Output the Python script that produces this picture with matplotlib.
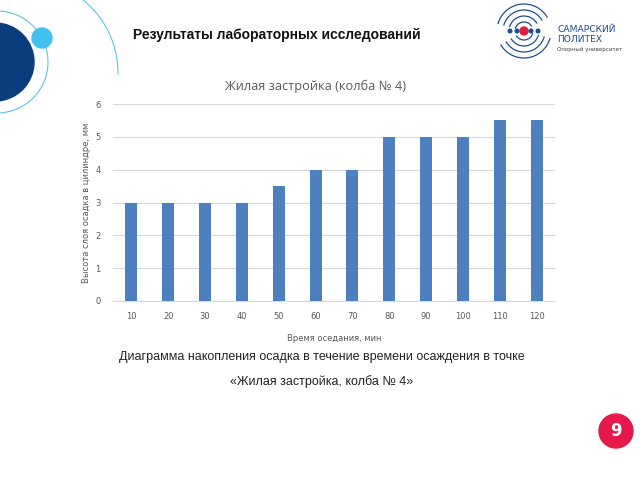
import matplotlib
matplotlib.use("Agg")
import matplotlib.pyplot as plt
from matplotlib.patches import Circle, Arc

times = ["10", "20", "30", "40", "50", "60", "70", "80", "90", "100", "110", "120"]
heights = [3, 3, 3, 3, 3.5, 4, 4, 5, 5, 5, 5.5, 5.5]
yticks = [0, 1, 2, 3, 4, 5, 6]

W, H = 640, 480
fig = plt.figure(figsize=(6.4, 4.8), dpi=100)
fig.patch.set_facecolor("white")

# background decoration layer in pixel coords (y inverted)
bg = fig.add_axes([0, 0, 1, 1])
bg.set_xlim(0, W)
bg.set_ylim(H, 0)
bg.axis("off")
bg.add_patch(Circle((-5, 62), 39, color="#0b3d7e", zorder=2))
bg.add_patch(Circle((-3, 62), 51, fill=False, ec="#5bc3e8", lw=0.8, zorder=1))
bg.add_patch(Circle((42, 38), 10, color="#43bff0", zorder=3))
bg.add_patch(Arc((24, 73), 188, 188, theta1=-75, theta2=1, ec="#5bc3e8", lw=0.8))

# logo
cx, cy = 524, 31
for r in (9, 15, 21, 27):
    bg.add_patch(Arc((cx, cy), 2 * r, 2 * r, theta1=195, theta2=330, ec="#1f4e8c", lw=0.9))
    bg.add_patch(Arc((cx, cy), 2 * r, 2 * r, theta1=15, theta2=150, ec="#1f4e8c", lw=0.9))
bg.add_patch(Circle((cx, cy), 4, color="#e31e3c", zorder=5))
for dx in (-14, -7, 7, 14):
    bg.add_patch(Circle((cx + dx, cy), 1.8, color="#1f4e8c", zorder=5))
bg.text(557, 30, "САМАРСКИЙ", fontsize=6.6, color="#1f4e8c", family="DejaVu Sans",
        va="center", ha="left")
bg.text(557, 40, "ПОЛИТЕХ", fontsize=6.6, color="#1f4e8c", family="DejaVu Sans",
        va="center", ha="left")
bg.text(557, 49, "Опорный университет", fontsize=4.0, color="#444444",
        va="center", ha="left")

# page number badge
bg.add_patch(Circle((616, 431), 17, color="#e5194a"))
bg.text(616, 431, "9", fontsize=12, color="white", ha="center", va="center", weight="bold")

# headings
bg.text(133, 35, "Результаты лабораторных исследований", fontsize=10, weight="bold",
        family="Liberation Sans", color="#111111", va="center", ha="left")
bg.text(316, 86, "Жилая застройка (колба № 4)", fontsize=9.2, color="#595959",
        family="Open Sans", ha="center", va="center")
bg.text(322, 357, "Диаграмма накопления осадка в течение времени осаждения в точке",
        fontsize=9, family="Liberation Sans", color="#222222", ha="center", va="center")
bg.text(322, 382, "«Жилая застройка, колба № 4»",
        fontsize=9, family="Liberation Sans", color="#222222", ha="center", va="center")

# chart
ax = fig.add_axes([113 / W, 1 - 301 / H, (555 - 113) / W, (301 - 104) / H])
x = range(len(times))
ax.bar(x, heights, width=0.33, color="#4e7fbf", zorder=3)
ax.set_xlim(-0.5, len(times) - 0.5)
ax.set_ylim(0, 6)
ax.set_yticks(yticks)
ax.set_yticklabels([str(v) for v in yticks])
ax.set_xticks(list(x))
ax.set_xticklabels(times)
ax.grid(axis="y", color="#d9d9d9", lw=0.8, zorder=0)
for s in ["top", "right", "left"]:
    ax.spines[s].set_visible(False)
ax.spines["bottom"].set_color("#d9d9d9")
ax.tick_params(length=0, labelsize=6, colors="#595959", pad=8)
ax.tick_params(axis="y", pad=9)
ax.set_xlabel("Время оседания, мин", fontsize=6, color="#595959", labelpad=9)
ax.set_ylabel("Высота слоя осадка в цилиндре, мм", fontsize=6, color="#595959", labelpad=3)

fig.savefig("out.png", dpi=100)
